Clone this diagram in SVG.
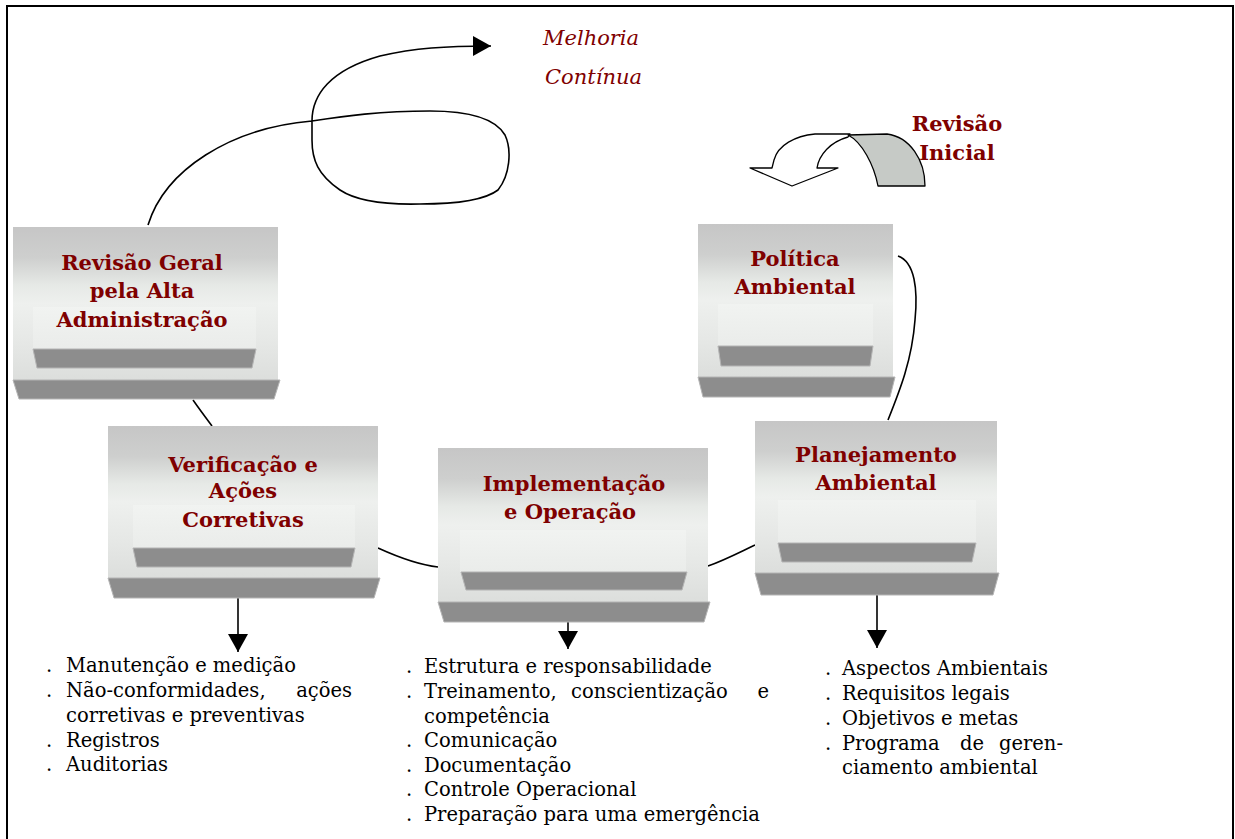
<svg xmlns="http://www.w3.org/2000/svg" width="1235" height="839" viewBox="0 0 1235 839">
<style>
.title{font-family:"DejaVu Serif","Liberation Serif",serif;font-weight:bold;font-size:21px;fill:#7f0000;text-anchor:middle}
.ital{font-family:"DejaVu Serif","Liberation Serif",serif;font-style:italic;font-size:21px;fill:#7f0000}
.list{font-family:"DejaVu Serif","Liberation Serif",serif;font-size:19.5px;fill:#000}
.main{fill:url(#boxGrad)}
.panel{fill:url(#panelGrad)}
.band{fill:#8d8d8d;stroke:#b4b4b4;stroke-width:1}
.conn{fill:none;stroke:#000;stroke-width:1.6}
</style>
<defs>
<linearGradient id="boxGrad" x1="0" y1="0" x2="0" y2="1">
<stop offset="0" stop-color="#c6c6c6"/>
<stop offset="0.2" stop-color="#cecfce"/>
<stop offset="0.38" stop-color="#e6e9e6"/>
<stop offset="0.5" stop-color="#eef0ee"/>
<stop offset="0.75" stop-color="#e6e8e6"/>
<stop offset="1" stop-color="#dcdedc"/>
</linearGradient>
<linearGradient id="panelGrad" x1="0" y1="0" x2="0" y2="1">
<stop offset="0" stop-color="#f1f3f1"/>
<stop offset="1" stop-color="#eaecea"/>
</linearGradient>
<marker id="arrow" markerUnits="userSpaceOnUse" markerWidth="18" markerHeight="20" viewBox="0 0 18 20" refX="18" refY="10" orient="auto">
<path d="M0,0 L18,10 L0,20 Z" fill="#000"/>
</marker>
</defs>

<rect width="1235" height="839" fill="#fff"/>
<path d="M7,839 L7,6 L1233,6 L1233,839" fill="none" stroke="#000" stroke-width="2"/>

<g id="connectors">
<path class="conn" marker-end="url(#arrow)" d="M148,225 C165,170 230,128 312,121 C345,116 380,111 430,111 C470,111 495,118 505,135 C512,150 510,175 498,190 C485,200 455,204 420,204 C380,205 355,200 340,190 C318,175 312,160 312,140 L312,121 C312,95 330,70 380,56 C415,48 445,46 491,46"/>
<path class="conn" d="M898,256 C915,262 918,290 915,320 C912,360 900,390 888,420"/>
<path class="conn" d="M193,400 C200,410 206,418 212,426"/>
<path class="conn" d="M378,548 C400,558 420,565 438,567"/>
<path class="conn" d="M708,566 C725,560 740,552 755,545"/>
<path class="conn" marker-end="url(#arrow)" d="M238,598 L238,652"/>
<path class="conn" marker-end="url(#arrow)" d="M568,622 L568,649"/>
<path class="conn" marker-end="url(#arrow)" d="M877,595 L877,648"/>
</g>

<g id="melhoria">
<text class="ital" x="543" y="45">Melhoria</text>
<text class="ital" x="545" y="84">Contínua</text>
</g>

<g id="revisao-inicial">
<path d="M850,134 L815,134 C795,136 778,145 774,160 L772,168 L750,168 L792,186 L838,168 L817,168 C819,155 830,142 848,137 Z" fill="#fff" stroke="#000" stroke-width="1.3" stroke-linejoin="round"/>
<path d="M878,186 L925,186 C925,160 910,137 887,134 L848,135 C862,142 874,165 878,186 Z" fill="#c6cac6" stroke="#000" stroke-width="1.3" stroke-linejoin="round"/>
<text class="title" x="957" y="131">Revisão</text>
<text class="title" x="957" y="160">Inicial</text>
</g>

<g id="revisao-geral">
<rect class="main" x="13" y="227" width="265" height="153"/>
<rect class="panel" x="33" y="307" width="223" height="42"/>
<polygon class="band" points="33,349 256,349 252,368 37,368"/>
<polygon class="band" points="13,380 280,380 274,399 19,399"/>
<text class="title" x="142" y="270">Revisão Geral</text>
<text class="title" x="142" y="298">pela Alta</text>
<text class="title" x="142" y="327">Administração</text>
</g>

<g id="politica">
<rect class="main" x="698" y="224" width="195" height="153"/>
<rect class="panel" x="718" y="304" width="155" height="42"/>
<polygon class="band" points="718,346 873,346 870,366 721,366"/>
<polygon class="band" points="698,377 895,377 890,397 703,397"/>
<text class="title" x="795" y="266">Política</text>
<text class="title" x="795" y="294">Ambiental</text>
</g>

<g id="verificacao">
<rect class="main" x="108" y="426" width="270" height="152"/>
<rect class="panel" x="133" y="505" width="222" height="43"/>
<polygon class="band" points="133,548 355,548 351,567 137,567"/>
<polygon class="band" points="108,578 380,578 374,598 114,598"/>
<text class="title" x="243" y="472">Verificação e</text>
<text class="title" x="243" y="498">Ações</text>
<text class="title" x="243" y="527">Corretivas</text>
</g>

<g id="implementacao">
<rect class="main" x="438" y="448" width="270" height="154"/>
<rect class="panel" x="460" y="530" width="226" height="42"/>
<polygon class="band" points="461,572 687,572 682,590 466,590"/>
<polygon class="band" points="438,602 710,602 704,622 444,622"/>
<text class="title" x="574" y="491">Implementação</text>
<text class="title" x="570" y="519">e Operação</text>
</g>

<g id="planejamento">
<rect class="main" x="755" y="421" width="242" height="152"/>
<rect class="panel" x="778" y="500" width="198" height="43"/>
<polygon class="band" points="778,543 976,543 972,562 782,562"/>
<polygon class="band" points="755,573 999,573 993,595 761,595"/>
<text class="title" x="876" y="462">Planejamento</text>
<text class="title" x="876" y="490">Ambiental</text>
</g>

<g id="list-verificacao" class="list">
<text x="46" y="672">.</text><text x="66" y="672">Manutenção e medição</text>
<text x="46" y="697">.</text><text x="66" y="697">Não-conformidades,</text><text x="352" y="697" text-anchor="end">ações</text>
<text x="66" y="722">corretivas e preventivas</text>
<text x="46" y="747">.</text><text x="66" y="747">Registros</text>
<text x="46" y="771">.</text><text x="66" y="771">Auditorias</text>
</g>

<g id="list-implementacao" class="list">
<text x="406" y="673">.</text><text x="424" y="673">Estrutura e responsabilidade</text>
<text x="406" y="698">.</text><text x="424" y="698">Treinamento,</text><text x="571" y="698">conscientização</text><text x="769" y="698" text-anchor="end">e</text>
<text x="424" y="723">competência</text>
<text x="406" y="747">.</text><text x="424" y="747">Comunicação</text>
<text x="406" y="772">.</text><text x="424" y="772">Documentação</text>
<text x="406" y="796">.</text><text x="424" y="796">Controle Operacional</text>
<text x="406" y="821">.</text><text x="424" y="821">Preparação para uma emergência</text>
</g>

<g id="list-planejamento" class="list">
<text x="825" y="675">.</text><text x="842" y="675">Aspectos Ambientais</text>
<text x="825" y="700">.</text><text x="842" y="700">Requisitos legais</text>
<text x="825" y="725">.</text><text x="842" y="725">Objetivos e metas</text>
<text x="825" y="750">.</text><text x="842" y="750">Programa</text><text x="972" y="750" text-anchor="middle">de</text><text x="1063" y="750" text-anchor="end">geren-</text>
<text x="842" y="774">ciamento ambiental</text>
</g>
</svg>
